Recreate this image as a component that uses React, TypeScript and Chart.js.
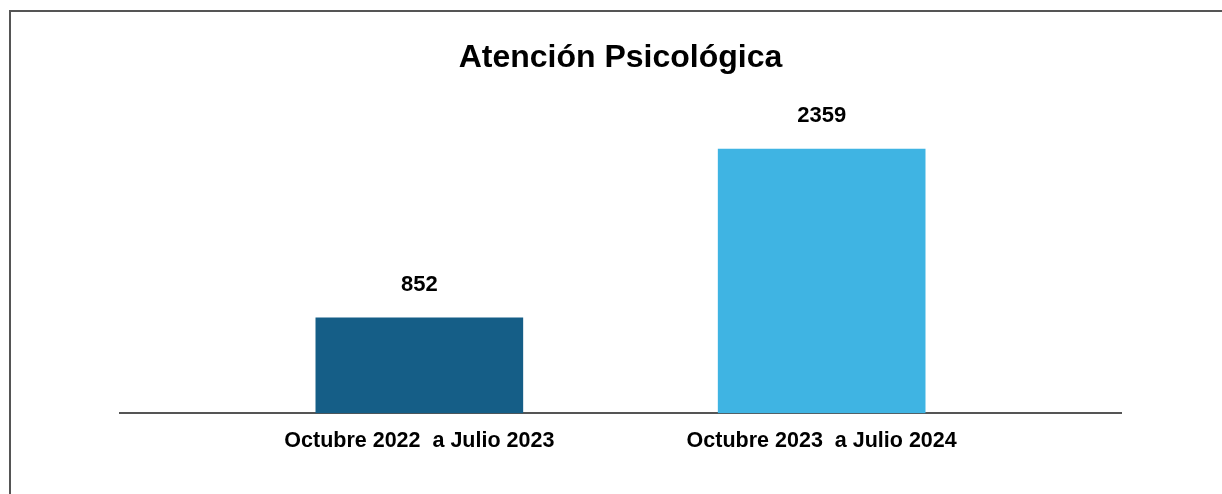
import React, { useEffect, useRef } from "react";
import { Chart, registerables } from "chart.js";

Chart.register(...registerables);

const TITLE = "Atención Psicológica";
const categories = ["Octubre 2022  a Julio 2023", "Octubre 2023  a Julio 2024"];
const values = [852, 2359];
const barColors = ["#155E87", "#3FB4E3"];

const FONT = "'Liberation Sans', Arial, Helvetica, sans-serif";

const framePlugin = {
  id: "frame",
  beforeDraw(chart: any) {
    const ctx = chart.ctx;
    ctx.save();
    ctx.fillStyle = "#ffffff";
    ctx.fillRect(0, 0, chart.width, chart.height);
    ctx.strokeStyle = "#555555";
    ctx.lineWidth = 2;
    ctx.strokeRect(10, 11, 3000, 3000);
    ctx.restore();
  },
};

const valueLabelPlugin = {
  id: "valueLabels",
  afterDatasetsDraw(chart: any) {
    const ctx = chart.ctx;
    const meta = chart.getDatasetMeta(0);
    ctx.save();
    ctx.font = `bold 22px ${FONT}`;
    ctx.fillStyle = "#000000";
    ctx.textAlign = "center";
    ctx.textBaseline = "middle";
    meta.data.forEach((el: any, i: number) => {
      ctx.fillText(String(values[i]), el.x, el.y - 33);
    });
    ctx.restore();
  },
};

export default function App() {
  const ref = useRef<HTMLCanvasElement | null>(null);

  useEffect(() => {
    if (!ref.current) return;
    const chart = new Chart(ref.current, {
      type: "bar",
      data: {
        datasets: [
          {
            data: values.map((v, i) => ({ x: i, y: v })),
            backgroundColor: barColors,
            borderWidth: 0,
            barThickness: 207,
          } as any,
        ],
      },
      options: {
        animation: false,
        responsive: true,
        maintainAspectRatio: false,
        layout: { padding: { left: 120, right: 101, top: 0, bottom: 25 } },
        plugins: {
          legend: { display: false },
          tooltip: { enabled: false },
          title: {
            display: true,
            text: TITLE,
            color: "#000000",
            font: { family: FONT, size: 32, weight: "bold" },
            padding: { top: 39, bottom: 0 },
          },
        },
        scales: {
          x: {
            type: "linear",
            offset: false,
            min: -0.744,
            max: 1.744,
            afterBuildTicks: (scale: any) => {
              scale.ticks = categories.map((_, i) => ({ value: i }));
            },
            ticks: {
              autoSkip: false,
              maxRotation: 0,
              padding: 15,
              color: "#000000",
              font: { family: FONT, size: 21.5, weight: "bold" },
              callback: (v: any) => categories[v as number] ?? "",
            },
            grid: { display: false, drawTicks: false },
            border: { display: true, color: "#555555", width: 2 },
          },
          y: {
            display: false,
            min: 0,
            max: 3000,
          },
        },
      },
      plugins: [framePlugin, valueLabelPlugin],
    });
    return () => chart.destroy();
  }, []);

  return (
    <div style={{ position: "fixed", left: 0, top: 0, width: 1222, height: 494 }}>
      <canvas ref={ref} />
    </div>
  );
}
